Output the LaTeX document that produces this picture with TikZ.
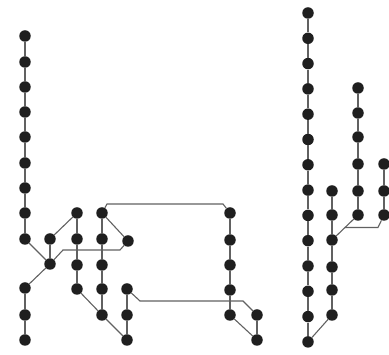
\documentclass[tikz,border=0pt]{standalone}
\usepackage{tikz}
\usetikzlibrary{calc}

\begin{document}
\begin{tikzpicture}[
    x=1pt,y=-1pt,
    dot/.style={circle,fill=black!88,inner sep=0pt,minimum size=11.5pt},
    wire/.style={draw=black!62,line width=1.1pt},
]
\useasboundingbox (0,0) rectangle (389,355);

% left tree: long stem and its lower part
\foreach \i/\y in {1/36,2/62,3/87,4/112,5/137,6/163,7/188,8/213,9/239,10/288,11/315,12/340}
  \node[dot] (a\i) at (25,\y) {};
\node[dot] (hub) at (50,264) {};
\node[dot] (b)   at (50,239) {};
\node[dot] (e)   at (128,241) {};

% middle columns
\foreach \i/\y in {1/213,2/239,3/265,4/289}
  \node[dot] (c\i) at (77,\y) {};
\foreach \i/\y in {1/213,2/239,3/265,4/289,5/315}
  \node[dot] (d\i) at (102,\y) {};
\foreach \i/\y in {1/289,2/315,3/340}
  \node[dot] (f\i) at (127,\y) {};
\foreach \i/\y in {1/213,2/240,3/265,4/290,5/315}
  \node[dot] (g\i) at (230,\y) {};
\foreach \i/\y in {1/315,2/340}
  \node[dot] (k\i) at (257,\y) {};

% right tree
\foreach \i in {1,...,14}
  \node[dot] (p\i) at (308,{13+25.3*(\i-1)}) {};
\foreach \i/\y in {1/191,2/215,3/240,4/267,5/290,6/315}
  \node[dot] (q\i) at (332,\y) {};
\foreach \i/\y in {1/88,2/113,3/137,4/164,5/191,6/215}
  \node[dot] (r\i) at (358,\y) {};
\foreach \i/\y in {1/164,2/191,3/215}
  \node[dot] (s\i) at (384,\y) {};

% bend points of the long connectors
\coordinate (h1) at (63,250);
\coordinate (h2) at (120,250);
\coordinate (t1) at (107,204);
\coordinate (t2) at (223,204);
\coordinate (u1) at (140,301);
\coordinate (u2) at (243,301);
\coordinate (j1) at (345,227.5);
\coordinate (j2) at (378,227.5);

% stems
\foreach \i [evaluate=\i as \n using int(\i+1)] in {1,...,8,10,11}
  \draw[wire] (a\i) -- (a\n);
\foreach \i [evaluate=\i as \n using int(\i+1)] in {1,2,3}
  \draw[wire] (c\i) -- (c\n);
\foreach \i [evaluate=\i as \n using int(\i+1)] in {1,...,4}
  \draw[wire] (d\i) -- (d\n) (g\i) -- (g\n);
\foreach \i [evaluate=\i as \n using int(\i+1)] in {1,2}
  \draw[wire] (f\i) -- (f\n) (s\i) -- (s\n);
\draw[wire] (k1) -- (k2);
\foreach \i [evaluate=\i as \n using int(\i+1)] in {1,...,13}
  \draw[wire] (p\i) -- (p\n);
\foreach \i [evaluate=\i as \n using int(\i+1)] in {1,...,5}
  \draw[wire] (q\i) -- (q\n) (r\i) -- (r\n);

% branches
\draw[wire] (a9) -- (hub);
\draw[wire] (b) -- (hub);
\draw[wire] (c1) -- (b);
\draw[wire] (hub) -- (a10);
\draw[wire] (c4) -- (d5);
\draw[wire] (d5) -- (f3);
\draw[wire] (d1) -- (e);
\draw[wire] (g5) -- (k2);
\draw[wire] (q6) -- (p14);
\draw[wire] (q3) -- (r6);

% long connectors
\draw[wire] (hub) -- (h1) -- (h2) -- (e);
\draw[wire] (d1) -- (t1) -- (t2) -- (g1);
\draw[wire] (f1) -- (u1) -- (u2) -- (k1);
\draw[wire] (j1) -- (j2) -- (s3);
\end{tikzpicture}
\end{document}
